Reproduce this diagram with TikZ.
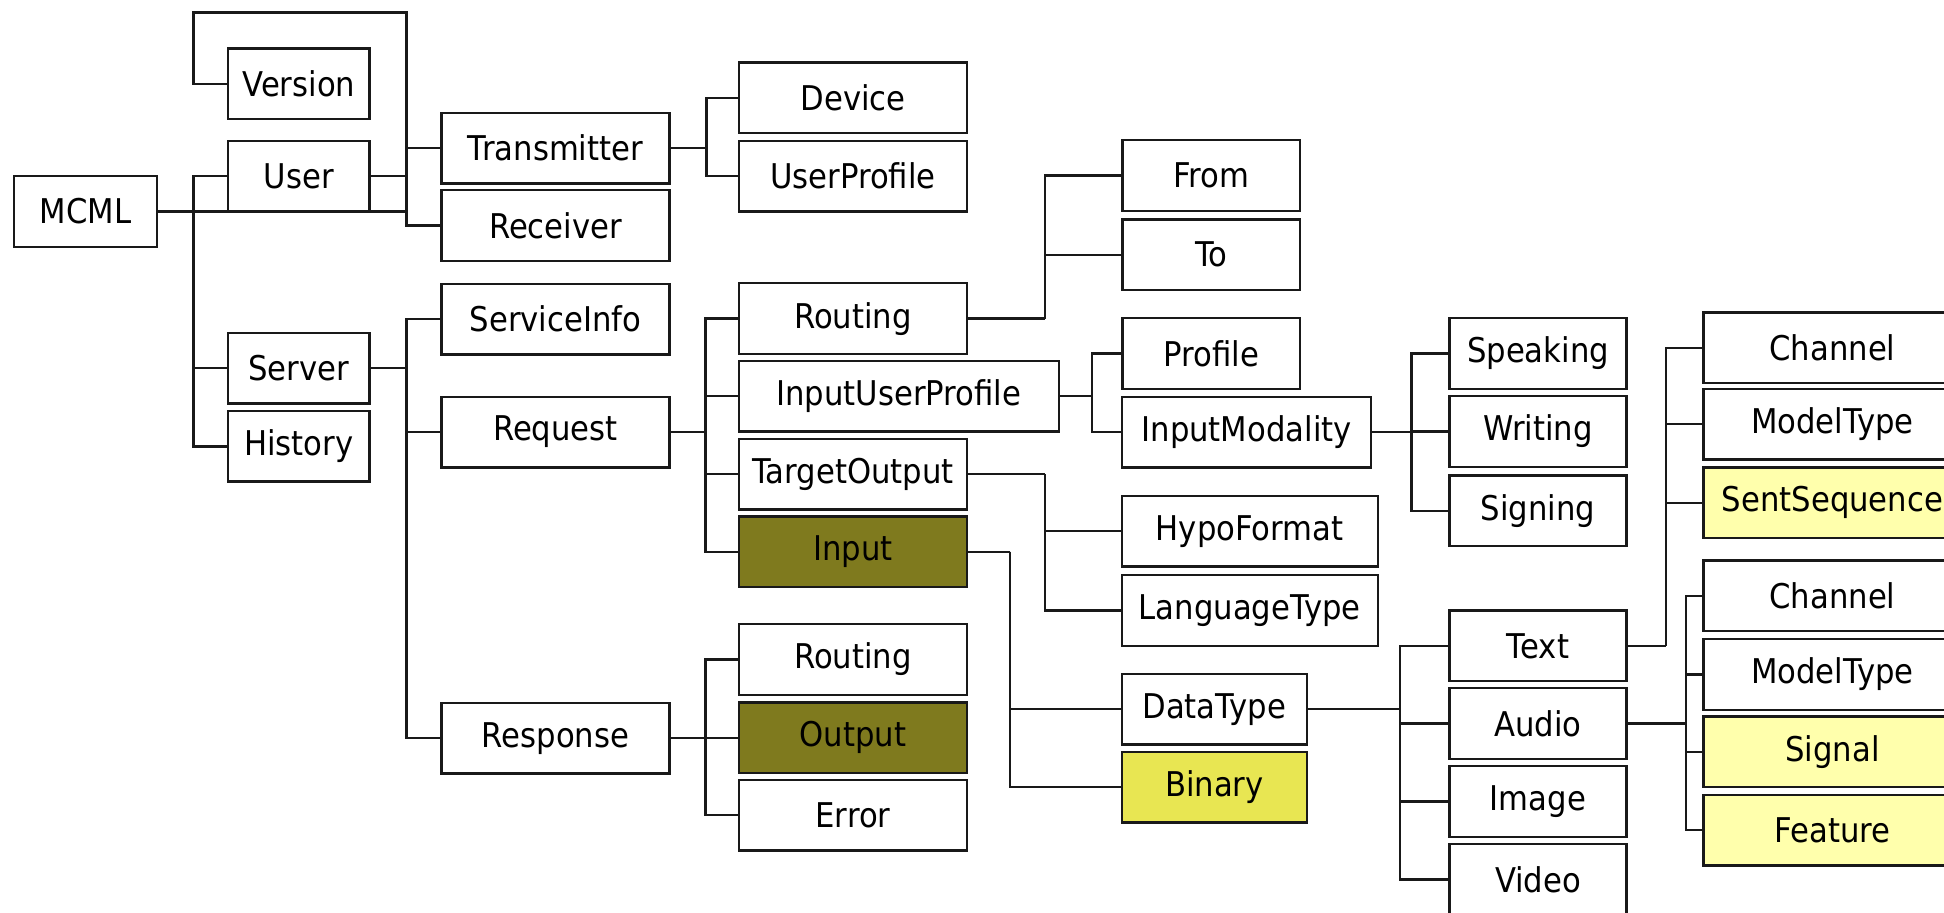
\documentclass[tikz,border=0pt]{standalone}
\usepackage{fontspec}
\setmainfont{DejaVu Sans}[FakeStretch=0.9]
\usepackage{tikz}
\definecolor{olivebox}{RGB}{127,122,30}
\definecolor{paleyellow}{RGB}{255,255,172}
\definecolor{brightyellow}{RGB}{232,230,82}
\tikzset{
  elem/.style={draw=black!90, line width=1.9pt, minimum height=57pt, inner sep=0pt,
    fill=white, font=\fontsize{27.5}{30}\selectfont},
  conn/.style={draw=black!90, line width=1.9pt},
}

\begin{document}
\begin{tikzpicture}[x=1pt,y=-1pt]
\useasboundingbox (0,0) rectangle (1568,736);
\clip (0,0) rectangle (1568,736);

% root
\node[elem, minimum width=115.5pt] (mcml) at (69,170.5) {MCML};

% first level
\node[elem, minimum width=114pt] (version) at (241,67.5) {Version};
\node[elem, minimum width=114pt] (user) at (241,142) {User};
\node[elem, minimum width=114pt] (server) at (241,297) {Server};
\node[elem, minimum width=114pt] (history) at (241,360) {History};

% second level
\node[elem, minimum width=184pt] (transmitter) at (448,119.5) {Transmitter};
\node[elem, minimum width=184pt] (receiver) at (448,182) {Receiver};
\node[elem, minimum width=184pt] (serviceinfo) at (448,257.5) {ServiceInfo};
\node[elem, minimum width=184pt] (request) at (448,348.5) {Request};
\node[elem, minimum width=184pt] (response) at (448,595.5) {Response};

% third level
\node[elem, minimum width=184pt] (device) at (688,79) {Device};
\node[elem, minimum width=184pt] (userprofile) at (688,142) {UserProfile};
\node[elem, minimum width=184pt] (routing) at (688,257) {Routing};
\node[elem, minimum width=258pt] (inputuserprofile) at (725,319.5) {InputUserProfile};
\node[elem, minimum width=184pt] (targetoutput) at (688,382.5) {TargetOutput};
\node[elem, minimum width=184pt, fill=olivebox] (input) at (688,445) {Input};
\node[elem, minimum width=184pt] (resrouting) at (688,532) {Routing};
\node[elem, minimum width=184pt, fill=olivebox] (output) at (688,595) {Output};
\node[elem, minimum width=184pt] (error) at (688,657.5) {Error};

% fourth level
\node[elem, minimum width=143.5pt] (from) at (977,141.5) {From};
\node[elem, minimum width=143.5pt] (to) at (977,205.5) {To};
\node[elem, minimum width=143.5pt] (profile) at (977,285) {Profile};
\node[elem, minimum width=201pt] (inputmodality) at (1005.5,348.5) {InputModality};
\node[elem, minimum width=206.5pt] (hypoformat) at (1008,428.5) {HypoFormat};
\node[elem, minimum width=206.5pt] (languagetype) at (1008,492.5) {LanguageType};
\node[elem, minimum width=149pt] (datatype) at (979.5,572) {DataType};
\node[elem, minimum width=149pt, fill=brightyellow] (binary) at (979.5,635) {Binary};

% fifth level
\node[elem, minimum width=143pt] (speaking) at (1240.5,285) {Speaking};
\node[elem, minimum width=143pt] (writing) at (1240.5,348) {Writing};
\node[elem, minimum width=143pt] (signing) at (1240.5,412) {Signing};
\node[elem, minimum width=143pt] (text) at (1240.5,521) {Text};
\node[elem, minimum width=143pt] (audio) at (1240.5,583.5) {Audio};
\node[elem, minimum width=143pt] (image) at (1240.5,646.5) {Image};
\node[elem, minimum width=143pt] (video) at (1240.5,709.5) {Video};

% sixth level
\node[elem, minimum width=208pt] (channel) at (1478,280.5) {Channel};
\node[elem, minimum width=208pt] (modeltype) at (1478,342) {ModelType};
\node[elem, minimum width=208pt, fill=paleyellow] (sentsequence) at (1478,405.5) {SentSequence};
\node[elem, minimum width=208pt] (achannel) at (1478,480.5) {Channel};
\node[elem, minimum width=208pt] (amodeltype) at (1478,544) {ModelType};
\node[elem, minimum width=208pt, fill=paleyellow] (signal) at (1478,606.5) {Signal};
\node[elem, minimum width=208pt, fill=paleyellow] (feature) at (1478,669.5) {Feature};

% buses
\draw[conn] (mcml.east) -- ++(28.5,0) coordinate (mcmlbus);
\draw[conn] (user.east) -- ++(29,0) coordinate (userbus);
\draw[conn] (mcml.east) -- (mcml.east -| userbus);
\foreach \c in {user,server,history}
  \draw[conn] (mcmlbus) |- (\c.west);

% version loop over the top
\coordinate (looptop) at (0,10);
\draw[conn] (userbus) |- (looptop -| mcmlbus) |- (version.west);
\foreach \c in {transmitter,receiver}
  \draw[conn] (userbus) |- (\c.west);

\draw[conn] (server.east) -- ++(29,0) coordinate (serverbus);
\foreach \c in {serviceinfo,request,response}
  \draw[conn] (serverbus) |- (\c.west);

\draw[conn] (transmitter.east) -- ++(29,0) coordinate (transbus);
\foreach \c in {device,userprofile}
  \draw[conn] (transbus) |- (\c.west);

\draw[conn] (request.east) -- ++(28,0) coordinate (reqbus);
\foreach \c in {routing,inputuserprofile,targetoutput,input}
  \draw[conn] (reqbus) |- (\c.west);

\draw[conn] (response.east) -- ++(28,0) coordinate (resbus);
\foreach \c in {resrouting,output,error}
  \draw[conn] (resbus) |- (\c.west);

\draw[conn] (routing.east) -- ++(62,0) coordinate (routbus);
\foreach \c in {from,to}
  \draw[conn] (routbus) |- (\c.west);

\draw[conn] (inputuserprofile.east) -- ++(26,0) coordinate (iupbus);
\foreach \c in {profile,inputmodality}
  \draw[conn] (iupbus) |- (\c.west);

\draw[conn] (targetoutput.east) -- ++(62,0) coordinate (tobus);
\foreach \c in {hypoformat,languagetype}
  \draw[conn] (tobus) |- (\c.west);

\draw[conn] (input.east) -- ++(33.5,0) coordinate (inbus);
\foreach \c in {datatype,binary}
  \draw[conn] (inbus) |- (\c.west);

\draw[conn] (inputmodality.east) -- ++(31.5,0) coordinate (modbus);
\foreach \c in {speaking,writing,signing}
  \draw[conn] (modbus) |- (\c.west);

\draw[conn] (datatype.east) -- ++(74.5,0) coordinate (dtbus);
\foreach \c in {text,audio,image,video}
  \draw[conn] (dtbus) |- (\c.west);

\draw[conn] (text.east) -- ++(31,0) coordinate (textbus);
\foreach \c in {channel,modeltype,sentsequence}
  \draw[conn] (textbus) |- (\c.west);

\draw[conn] (audio.east) -- ++(47,0) coordinate (audiobus);
\foreach \c in {achannel,amodeltype,signal,feature}
  \draw[conn] (audiobus) |- (\c.west);

\end{tikzpicture}
\end{document}
